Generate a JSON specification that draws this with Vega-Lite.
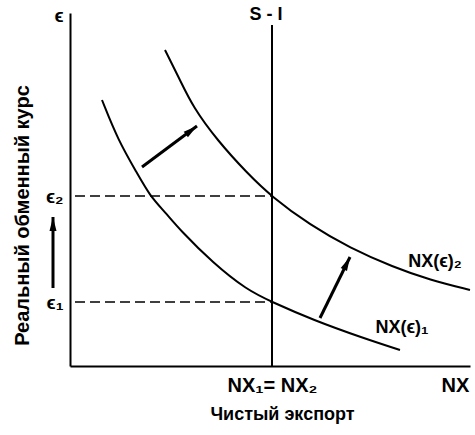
{
  "$schema": "https://vega.github.io/schema/vega-lite/v6.json",
  "width": 400,
  "height": 353,
  "autosize": "none",
  "padding": {"left": 70, "top": 13, "right": 5, "bottom": 69},
  "background": "white",
  "config": {
    "view": {"stroke": null},
    "font": "Liberation Sans",
    "axis": {"grid": false, "ticks": false, "domainColor": "black", "domainWidth": 2, "labelColor": "black", "titleColor": "black", "labelFont": "Liberation Sans", "titleFont": "Liberation Sans", "labelFontWeight": "bold", "titleFontWeight": "bold"}
  },
  "datasets": {
    "curves": [
      {"series": "NX2", "x": 95, "y": 316},
      {"series": "NX2", "x": 110, "y": 286},
      {"series": "NX2", "x": 123, "y": 259},
      {"series": "NX2", "x": 147, "y": 226},
      {"series": "NX2", "x": 177, "y": 193},
      {"series": "NX2", "x": 202, "y": 169},
      {"series": "NX2", "x": 240, "y": 141},
      {"series": "NX2", "x": 280, "y": 118},
      {"series": "NX2", "x": 323, "y": 99},
      {"series": "NX2", "x": 360, "y": 86},
      {"series": "NX2", "x": 400, "y": 76},
      {"series": "NX1", "x": 32, "y": 266},
      {"series": "NX1", "x": 48, "y": 226},
      {"series": "NX1", "x": 67, "y": 193},
      {"series": "NX1", "x": 80, "y": 170},
      {"series": "NX1", "x": 95, "y": 154},
      {"series": "NX1", "x": 110, "y": 136},
      {"series": "NX1", "x": 143, "y": 103},
      {"series": "NX1", "x": 177, "y": 76},
      {"series": "NX1", "x": 202, "y": 64},
      {"series": "NX1", "x": 243, "y": 46},
      {"series": "NX1", "x": 293, "y": 28},
      {"series": "NX1", "x": 330, "y": 16}
    ],
    "dashes": [
      {"x": 5, "x2": 202, "y": 170},
      {"x": 5, "x2": 202, "y": 64}
    ],
    "arrows": [
      {"x": 72, "y": 199, "x2": 127, "y2": 240, "angle": 53},
      {"x": 250, "y": 48, "x2": 280, "y2": 109, "angle": 26},
      {"x": -17, "y": 78, "x2": -17, "y2": 149, "angle": 0}
    ],
    "labels": [
      {"x": 196, "y": 351, "text": "S - I"},
      {"x": 365, "y": 104, "text": "NX(ϵ)₂"},
      {"x": 332, "y": 38, "text": "NX(ϵ)₁"}
    ]
  },
  "layer": [
    {
      "data": {"name": "curves"},
      "mark": {"type": "line", "interpolate": "basis", "color": "black", "strokeWidth": 2, "clip": false},
      "encoding": {
        "x": {"field": "x", "type": "quantitative", "scale": {"domain": [0, 400], "nice": false, "zero": false},
          "axis": {"values": [202, 385], "labelExpr": "datum.value == 202 ? 'NX₁= NX₂' : 'NX'", "labelFontSize": 20, "labelPadding": 9, "title": "Чистый экспорт", "titleFontSize": 18, "titleX": 212, "titleY": 39, "titleBaseline": "top", "titleAnchor": null}},
        "y": {"field": "y", "type": "quantitative", "scale": {"domain": [0, 353], "nice": false, "zero": false},
          "axis": {"values": [64, 170, 351], "labelExpr": "datum.value == 351 ? 'ϵ' : datum.value == 170 ? 'ϵ₂' : 'ϵ₁'", "labelFontSize": 19, "labelPadding": 7, "title": "Реальный обменный курс", "titleFontSize": 20, "titleX": -48, "titleY": 202, "titleAngle": -90, "titleAlign": "center", "titleBaseline": "middle"}},
        "detail": {"field": "series"}
      }
    },
    {
      "data": {"values": [{"x": 202, "y": 0, "y2": 341}]},
      "mark": {"type": "rule", "color": "black", "strokeWidth": 2},
      "encoding": {
        "x": {"field": "x", "type": "quantitative"},
        "y": {"field": "y", "type": "quantitative"},
        "y2": {"field": "y2"}
      }
    },
    {
      "data": {"name": "dashes"},
      "mark": {"type": "rule", "color": "black", "strokeWidth": 1.5, "strokeDash": [10, 5]},
      "encoding": {
        "x": {"field": "x", "type": "quantitative"},
        "x2": {"field": "x2"},
        "y": {"field": "y", "type": "quantitative"}
      }
    },
    {
      "data": {"name": "arrows"},
      "mark": {"type": "rule", "color": "black", "strokeWidth": 3, "clip": false},
      "encoding": {
        "x": {"field": "x", "type": "quantitative"},
        "y": {"field": "y", "type": "quantitative"},
        "x2": {"field": "x2"},
        "y2": {"field": "y2"}
      }
    },
    {
      "data": {"name": "arrows"},
      "mark": {"type": "point", "shape": "M0,0L0.5,2L-0.5,2Z", "filled": true, "color": "black", "opacity": 1, "size": 196, "strokeWidth": 0, "clip": false},
      "encoding": {
        "x": {"field": "x2", "type": "quantitative"},
        "y": {"field": "y2", "type": "quantitative"},
        "angle": {"field": "angle", "type": "quantitative", "scale": null}
      }
    },
    {
      "data": {"name": "labels"},
      "mark": {"type": "text", "font": "Liberation Sans", "fontWeight": "bold", "fontSize": 18, "color": "black", "align": "center", "baseline": "middle", "clip": false},
      "encoding": {
        "x": {"field": "x", "type": "quantitative"},
        "y": {"field": "y", "type": "quantitative"},
        "text": {"field": "text"}
      }
    }
  ]
}
